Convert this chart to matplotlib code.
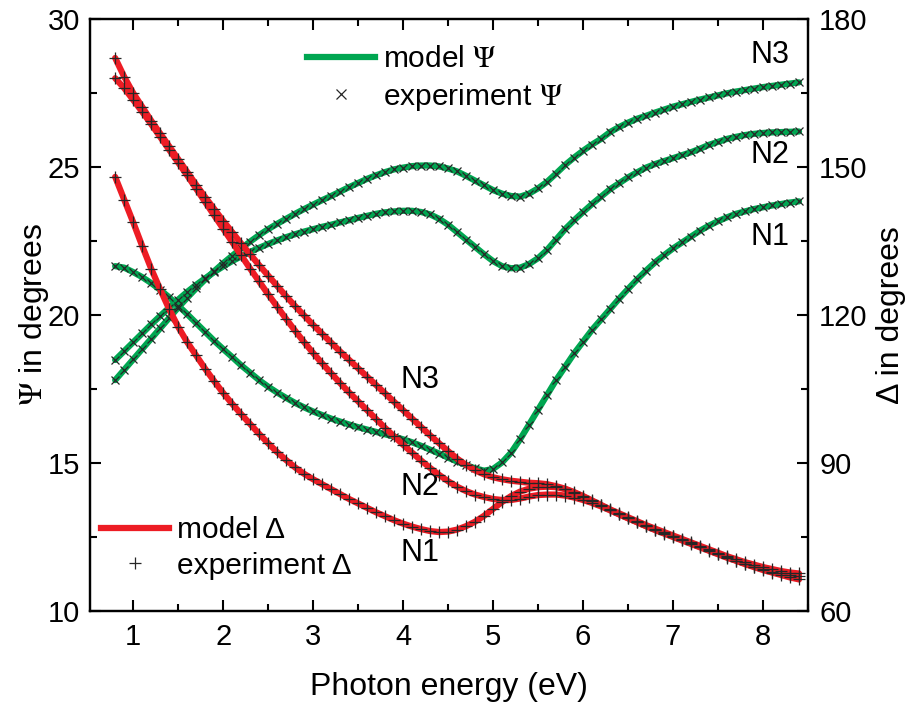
import numpy as np
import matplotlib
matplotlib.use('Agg')
import matplotlib.pyplot as plt
from matplotlib.lines import Line2D
from matplotlib.ticker import MultipleLocator

plt.rcParams['font.family'] = ['Liberation Sans', 'DejaVu Sans']
plt.rcParams['mathtext.fontset'] = 'stix'

# photon energy grid (eV) of the measured spectra
energy = np.round(np.arange(0.8, 8.45, 0.1), 2)

# Psi (degrees), left axis
psi_n1 = [21.65, 21.60, 21.45, 21.28, 21.08, 20.85, 20.60, 20.32, 20.03, 19.73,
          19.43, 19.13, 18.85, 18.58, 18.30, 18.05, 17.80, 17.58, 17.38, 17.20,
          17.03, 16.88, 16.74, 16.62, 16.50, 16.40, 16.30, 16.21, 16.13, 16.05,
          15.97, 15.89, 15.80, 15.70, 15.58, 15.45, 15.32, 15.18, 15.05, 14.93,
          14.82, 14.74, 14.80, 15.02, 15.35, 15.80, 16.30, 16.80, 17.30, 17.80,
          18.25, 18.70, 19.10, 19.50, 19.85, 20.20, 20.55, 20.88, 21.20, 21.50,
          21.78, 22.02, 22.25, 22.45, 22.65, 22.85, 23.02, 23.17, 23.30, 23.42,
          23.50, 23.58, 23.64, 23.70, 23.75, 23.80, 23.84]
psi_n2 = [18.48, 18.78, 19.08, 19.38, 19.68, 19.97, 20.25, 20.52, 20.78, 21.02,
          21.24, 21.45, 21.64, 21.82, 21.98, 22.13, 22.27, 22.40, 22.52, 22.63,
          22.73, 22.82, 22.90, 22.98, 23.05, 23.13, 23.20, 23.28, 23.35, 23.42,
          23.47, 23.50, 23.52, 23.52, 23.48, 23.40, 23.25, 23.05, 22.80, 22.55,
          22.30, 22.05, 21.82, 21.65, 21.58, 21.60, 21.72, 21.92, 22.20, 22.55,
          22.90, 23.20, 23.48, 23.75, 24.00, 24.25, 24.45, 24.65, 24.82, 24.98,
          25.10, 25.20, 25.30, 25.40, 25.50, 25.62, 25.75, 25.85, 25.95, 26.02,
          26.08, 26.12, 26.15, 26.17, 26.18, 26.19, 26.20]
psi_n3 = [17.80, 18.15, 18.50, 18.85, 19.20, 19.55, 19.90, 20.25, 20.58, 20.90,
          21.20, 21.48, 21.75, 22.00, 22.25, 22.48, 22.70, 22.90, 23.08, 23.25,
          23.42, 23.58, 23.73, 23.88, 24.02, 24.17, 24.32, 24.46, 24.60, 24.72,
          24.83, 24.92, 24.98, 25.03, 25.05, 25.05, 25.02, 24.95, 24.85, 24.70,
          24.54, 24.38, 24.22, 24.10, 24.02, 24.00, 24.10, 24.28, 24.50, 24.78,
          25.07, 25.32, 25.55, 25.76, 25.95, 26.18, 26.35, 26.50, 26.63, 26.73,
          26.84, 26.94, 27.04, 27.12, 27.20, 27.28, 27.35, 27.42, 27.49, 27.55,
          27.60, 27.65, 27.70, 27.74, 27.78, 27.82, 27.86]

# Delta (degrees), right axis
delta_n1 = [148.0, 143.4, 138.8, 134.0, 129.4, 125.2, 121.2, 117.6, 114.5, 111.8,
            109.1, 106.6, 104.2, 102.0, 99.9, 97.9, 95.9, 94.0, 92.2, 90.6,
            89.1, 87.8, 86.7, 85.7, 84.7, 83.7, 82.7, 81.8, 80.9, 80.0,
            79.2, 78.4, 77.7, 77.1, 76.6, 76.2, 76.0, 76.1, 76.5, 77.2,
            78.1, 79.3, 80.7, 82.1, 83.3, 84.2, 84.8, 85.1, 85.2, 85.1,
            84.7, 84.0, 83.2, 82.3, 81.4, 80.5, 79.6, 78.8, 78.0, 77.2,
            76.5, 75.8, 75.1, 74.4, 73.7, 73.0, 72.3, 71.6, 70.9, 70.2,
            69.5, 68.9, 68.3, 67.8, 67.3, 66.8, 66.4]
delta_n2 = [168.0, 166.0, 163.6, 161.2, 158.7, 156.1, 153.5, 150.9, 148.3, 145.6,
            142.9, 140.2, 137.5, 134.8, 132.1, 129.4, 126.8, 124.2, 121.7, 119.2,
            116.8, 114.5, 112.3, 110.2, 108.2, 106.2, 104.3, 102.5, 100.7, 98.9,
            97.1, 95.4, 93.7, 92.1, 90.5, 89.0, 87.6, 86.3, 85.2, 84.3,
            83.6, 83.1, 82.7, 82.5, 82.5, 82.8, 83.2, 83.5, 83.6, 83.6,
            83.4, 83.0, 82.5, 81.9, 81.2, 80.4, 79.6, 78.8, 78.0, 77.2,
            76.4, 75.7, 75.0, 74.3, 73.6, 72.9, 72.2, 71.5, 70.8, 70.2,
            69.6, 69.0, 68.5, 68.0, 67.6, 67.3, 67.0]
delta_n3 = [172.1, 168.3, 165.0, 162.2, 159.4, 156.8, 154.2, 151.6, 149.0, 146.4,
            143.9, 141.5, 139.1, 136.8, 134.5, 132.3, 130.1, 128.0, 125.9, 123.8,
            121.8, 119.9, 118.0, 116.2, 114.4, 112.6, 110.9, 109.2, 107.5, 105.8,
            104.1, 102.4, 100.7, 99.0, 97.3, 95.6, 94.0, 92.4, 90.9, 89.6,
            88.5, 87.7, 87.1, 86.7, 86.4, 86.2, 86.0, 85.9, 85.7, 85.3,
            84.8, 84.1, 83.3, 82.4, 81.5, 80.6, 79.8, 79.0, 78.2, 77.4,
            76.7, 76.0, 75.3, 74.6, 73.9, 73.2, 72.5, 71.8, 71.1, 70.5,
            69.9, 69.4, 68.9, 68.5, 68.1, 67.8, 67.6]

green = '#00a651'
red = '#ed1c24'
mark = '#262626'

fig = plt.figure(figsize=(9.08, 7.07), dpi=100)
ax = fig.add_axes([0.0991, 0.1358, 0.7908, 0.8373])
ax2 = ax.twinx()

for psi in (psi_n1, psi_n2, psi_n3):
    ax.plot(energy, psi, color=green, lw=4.5, solid_capstyle='round', zorder=2)
    ax.plot(energy, psi, ls='none', marker='x', ms=6, mew=0.9, color=mark, zorder=3)

for delta in (delta_n1, delta_n2, delta_n3):
    ax2.plot(energy, delta, color=red, lw=4.5, solid_capstyle='round', zorder=2)
    ax2.plot(energy, delta, ls='none', marker='+', ms=8.5, mew=0.9, color=mark, zorder=3)

ax.set_xlim(0.52, 8.5)
ax.set_ylim(10, 30)
ax2.set_ylim(60, 180)

ax.xaxis.set_major_locator(MultipleLocator(1))
ax.xaxis.set_minor_locator(MultipleLocator(0.5))
ax.yaxis.set_major_locator(MultipleLocator(5))
ax.yaxis.set_minor_locator(MultipleLocator(2.5))
ax2.yaxis.set_major_locator(MultipleLocator(30))
ax2.yaxis.set_minor_locator(MultipleLocator(15))

ax.tick_params(which='both', direction='in', top=True, right=False, width=1.5,
               labelsize=21)
ax.tick_params(axis='x', pad=9)
ax.tick_params(axis='y', pad=7)
ax.tick_params(which='major', length=8)
ax.tick_params(which='minor', length=5)
ax2.tick_params(which='both', direction='in', width=1.5, labelsize=21, pad=8)
ax2.tick_params(which='major', length=8)
ax2.tick_params(which='minor', length=5)
for a in (ax, ax2):
    for s in a.spines.values():
        s.set_linewidth(1.6)

ax.set_xlabel('Photon energy (eV)', fontsize=23, labelpad=15)
ax.set_ylabel(r'$\Psi$ in degrees', fontsize=23, labelpad=-2)
ax2.set_ylabel('Δ in degrees', fontsize=23, labelpad=6)

# curve labels
ax.text(8.08, 28.78, 'N3', fontsize=22, ha='center', va='center')
ax.text(8.08, 25.4, 'N2', fontsize=22, ha='center', va='center')
ax.text(8.08, 22.64, 'N1', fontsize=22, ha='center', va='center')
ax.text(4.19, 17.8, 'N3', fontsize=22, ha='center', va='center')
ax.text(4.19, 14.19, 'N2', fontsize=22, ha='center', va='center')
ax.text(4.19, 11.96, 'N1', fontsize=22, ha='center', va='center')

h_psi = [Line2D([], [], color=green, lw=4.5),
         Line2D([], [], ls='none', marker='x', ms=6.5, mew=0.9, color=mark)]
h_del = [Line2D([], [], color=red, lw=4.5),
         Line2D([], [], ls='none', marker='+', ms=9, mew=0.9, color=mark)]
leg1 = ax2.legend(h_psi, [r'model $\Psi$', r'experiment $\Psi$'], loc='upper left',
                  bbox_to_anchor=(0.302, 0.956), frameon=False, fontsize=21.5,
                  handlelength=2.27, handletextpad=0.27, borderpad=0,
                  borderaxespad=0, labelspacing=0.25)
ax2.add_artist(leg1)
ax2.legend(h_del, ['model Δ', 'experiment Δ'], loc='upper left',
           bbox_to_anchor=(0.015, 0.160), frameon=False, fontsize=21.5,
           handlelength=2.27, handletextpad=0.27, borderpad=0,
           borderaxespad=0, labelspacing=0.25)

fig.savefig('out.png', dpi=100)
